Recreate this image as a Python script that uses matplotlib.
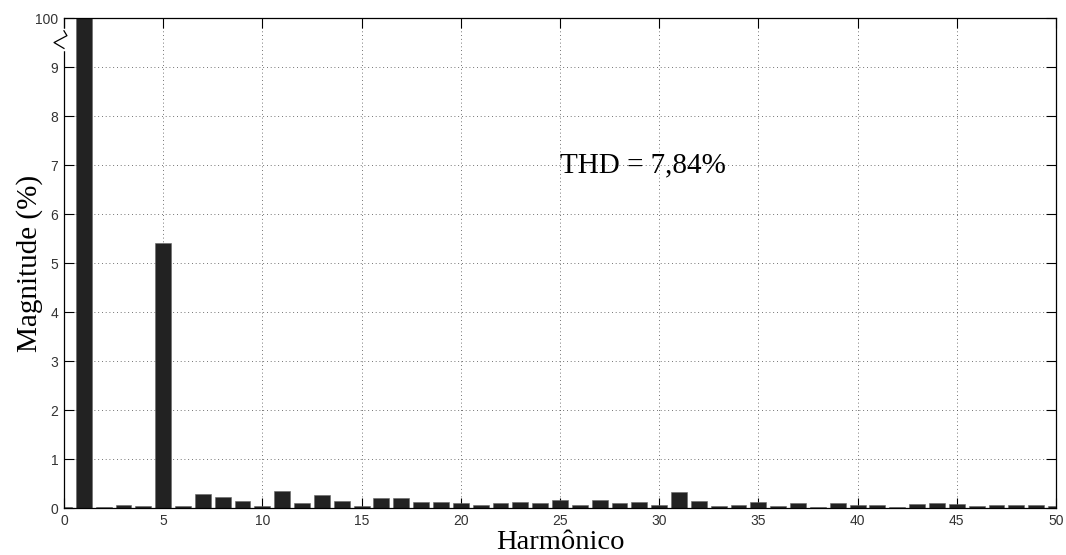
import numpy as np
import matplotlib
matplotlib.use('Agg')
import matplotlib.pyplot as plt

# Spectre harmonique (% de la fondamentale)
harmonics = np.arange(0, 51)
magnitude = [0.02, 100, 0.03, 0.06, 0.05, 5.4, 0.05, 0.29, 0.23, 0.15,
             0.05, 0.35, 0.11, 0.27, 0.14, 0.05, 0.20, 0.20, 0.13, 0.13,
             0.11, 0.07, 0.10, 0.12, 0.11, 0.17, 0.07, 0.16, 0.10, 0.12,
             0.06, 0.32, 0.14, 0.05, 0.07, 0.12, 0.05, 0.11, 0.03, 0.10,
             0.06, 0.07, 0.03, 0.09, 0.10, 0.09, 0.05, 0.07, 0.06, 0.06,
             0.04]
y_ticks = [0, 1, 2, 3, 4, 5, 6, 7, 8, 9, 10]
y_labels = ['0', '1', '2', '3', '4', '5', '6', '7', '8', '9', '100']
x_ticks = [0, 5, 10, 15, 20, 25, 30, 35, 40, 45, 50]
thd_text = 'THD = 7,84%'

fig = plt.figure(figsize=(10.66, 5.55), dpi=100)
ax = fig.add_axes([0.060, 0.0845, 0.9306, 0.883])

ax.bar(harmonics, magnitude, width=0.8, color='#222222',
       edgecolor='#666666', linewidth=0.4, zorder=2)

ax.set_xlim(0, 50)
ax.set_ylim(0, 10)
ax.set_xticks(x_ticks)
ax.set_yticks(y_ticks)
ax.set_yticklabels(y_labels)
ax.set_axisbelow(True)
ax.grid(True, color='#444444', linestyle=(0, (1, 3.5)), linewidth=0.6)

ax.tick_params(direction='in', length=7, width=0.8, top=True, right=True,
               labelsize=10, pad=4)
for lab in ax.get_xticklabels() + ax.get_yticklabels():
    lab.set_family(['Liberation Sans', 'DejaVu Sans'])
    lab.set_color('#333333')
for sp in ax.spines.values():
    sp.set_linewidth(0.9)

serif = ['Liberation Serif', 'DejaVu Serif']
ax.set_xlabel('Harmônico', family=serif, fontsize=20.5)
ax.set_ylabel('Magnitude (%)', family=serif, fontsize=21)
ax.xaxis.set_label_coords(0.5, -0.044)
ax.yaxis.set_label_coords(-0.021, 0.5)
ax.text(25.0, 7.0, thd_text, family=serif, fontsize=21,
        ha='left', va='center')

# Symbole de coupure sur l'axe vertical
tr = ax.get_yaxis_transform()
ax.plot([0, 0], [9.36, 9.76], transform=tr, color='white', lw=2.5,
        clip_on=False, zorder=5)
ax.plot([0, 0.003, -0.010, 0], [9.74, 9.64, 9.50, 9.38], transform=tr,
        color='black', lw=0.9, clip_on=False, zorder=6)

fig.savefig('out.png', dpi=100)
